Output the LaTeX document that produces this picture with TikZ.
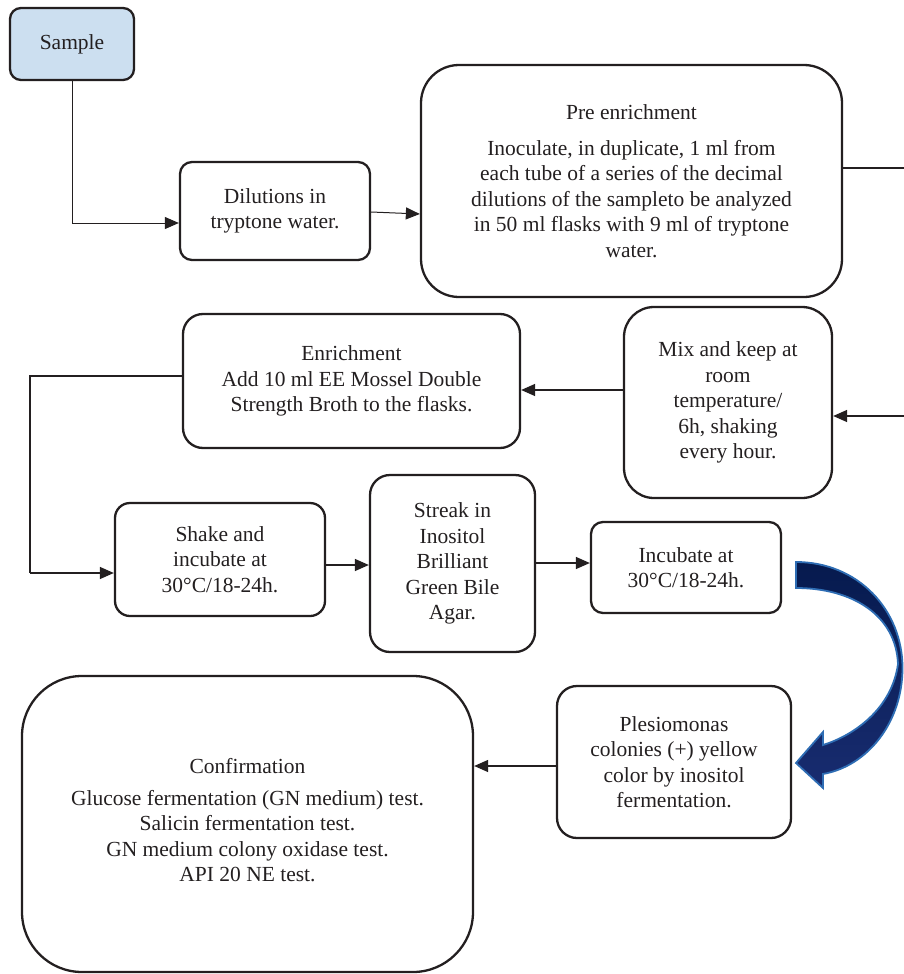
\documentclass[tikz,border=0pt]{standalone}
\usepackage{fontspec}
\setmainfont{Liberation Serif}
\usetikzlibrary{arrows.meta}
\definecolor{ink}{HTML}{231F20}
\definecolor{sampblue}{HTML}{CCDFF0}
\definecolor{navytop}{HTML}{061A4E}
\definecolor{navybot}{HTML}{182C70}
\definecolor{navyedge}{HTML}{2E6DB4}
\begin{document}
\begin{tikzpicture}[x=1pt,y=-1pt,
  box/.style={draw=ink, line width=2.3pt, align=center, inner sep=0pt,
    font=\fontsize{21.5}{25.5}\selectfont, text=ink},
  arr/.style={draw=ink, line width=1.4pt, -{Triangle[length=14pt,width=12pt]}},
  thinarr/.style={draw=ink, line width=1pt, -{Triangle[length=14pt,width=12pt]}},
  ln/.style={draw=ink, line width=1.4pt}]
\useasboundingbox (0,0) rectangle (904,974);

\node[box, fill=sampblue, rounded corners=11pt, minimum width=124pt, minimum height=72pt] (sample) at (72,44) {Sample};
\node[box, rounded corners=12pt, minimum width=190pt, minimum height=98pt] (dil) at (275,211) {Dilutions in\\tryptone water.};
\node[box, rounded corners=38pt, minimum width=421pt, minimum height=232pt] (pre) at (631.5,181)
  {Pre enrichment\\[10pt]Inoculate, in duplicate, 1 ml from\\each tube of a series of the decimal\\dilutions of the sampleto be analyzed\\in 50 ml flasks with 9 ml of tryptone\\water.};
\node[box, rounded corners=30pt, minimum width=208pt, minimum height=191pt] (mix) at (728,402.5)
  {Mix and keep at\\room\\temperature/\\6h, shaking\\every hour.};
\node[box, rounded corners=20pt, minimum width=337pt, minimum height=134pt] (enr) at (351.5,381)
  {Enrichment\\Add 10 ml EE Mossel Double\\Strength Broth to the flasks.};
\node[box, rounded corners=15pt, minimum width=210pt, minimum height=113pt] (shake) at (220,559.5)
  {Shake and\\incubate at\\30°C/18-24h.};
\node[box, rounded corners=20pt, minimum width=165pt, minimum height=177pt] (streak) at (452.5,563.5)
  {Streak in\\Inositol\\Brilliant\\Green Bile\\Agar.};
\node[box, rounded corners=12pt, minimum width=190pt, minimum height=91pt] (inc) at (686,567.5)
  {Incubate at\\30°C/18-24h.};
\node[box, rounded corners=20pt, minimum width=234pt, minimum height=152pt] (ples) at (674,762)
  {Plesiomonas\\colonies (+) yellow\\color by inositol\\fermentation.};
\node[box, rounded corners=60pt, minimum width=451pt, minimum height=296pt] (conf) at (247.5,824)
  {Confirmation\\[6pt]Glucose fermentation (GN medium) test.\\Salicin fermentation test.\\GN medium colony oxidase test.\\API 20 NE test.\\[-18pt]\mbox{}};

\coordinate (preout) at (904,168);
\coordinate (mixin) at (904,416);
\coordinate (c1) at (72,223);
\coordinate (c2) at (30,376);
\coordinate (c3) at (30,573);

\draw[thinarr] (sample.south) -- (c1) -- (dil.west |- c1);
\draw[thinarr] (dil.east |- 0,212) -- (pre.west |- 0,214);
\draw[ln] (pre.east |- preout) -- (preout);
\draw[arr] (mixin) -- (mix.east |- mixin);
\draw[arr] (mix.west |- 0,390) -- (enr.east |- 0,390);
\draw[ln] (enr.west |- c2) -- (c2) -- (c3);
\draw[arr] (c3) -- (shake.west |- c3);
\draw[arr] (shake.east |- 0,565) -- (streak.west |- 0,565);
\draw[arr] (streak.east |- 0,563) -- (inc.west |- 0,563);
\draw[arr] (ples.west |- 0,766) -- (conf.east |- 0,766);

\path[top color=navytop, bottom color=navybot, draw=navyedge, line width=1.8pt, line join=miter]
  (796,562) .. controls (858,562) and (902.5,610) .. (902.5,668)
  .. controls (902.5,722) and (868,766) .. (823,774)
  -- (823,788) -- (796,763) -- (823,732) -- (823,745)
  .. controls (855,735) and (892,708) .. (898,664)
  .. controls (896,615) and (852,588) .. (796,588) -- cycle;
\end{tikzpicture}
\end{document}
